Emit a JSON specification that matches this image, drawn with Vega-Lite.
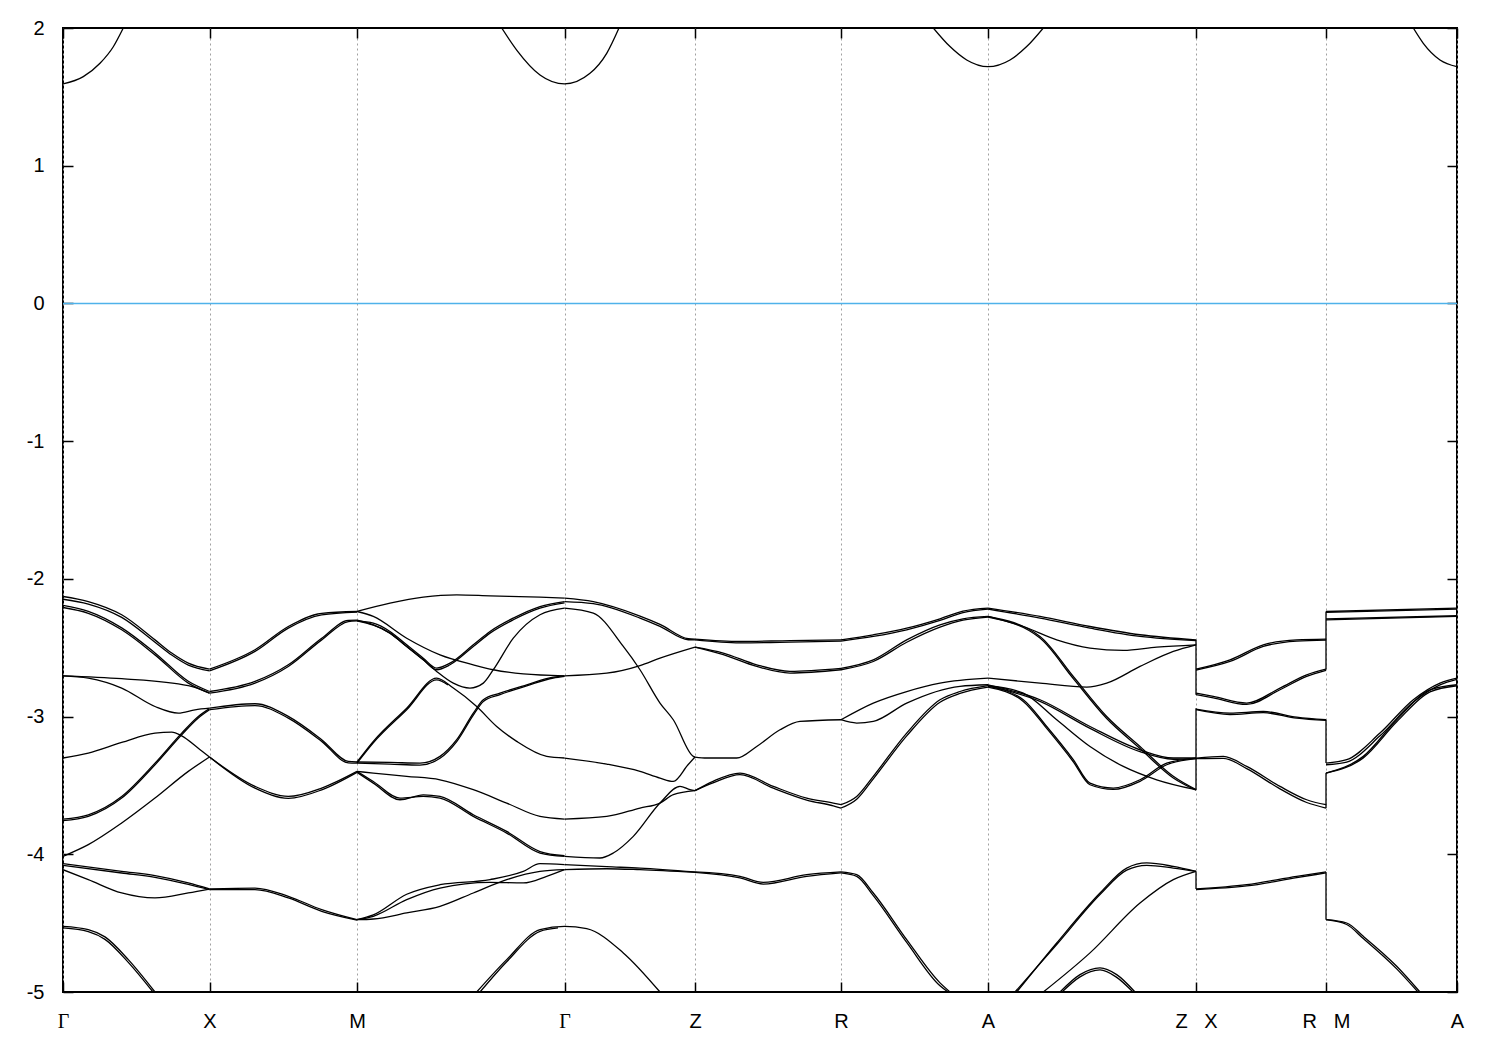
{
"$schema": "https://vega.github.io/schema/vega-lite/v6.json",
"width": 1394,
"height": 964,
"padding": {"left": 23, "top": 18, "right": 43, "bottom": 0},
"autosize": {"type": "pad"},
"config": {"view": {"stroke": "black", "strokeWidth": 2}, "background": "white"},
"datasets": {
"bands": [
{"b":"cb1","k":0,"e":1.594},{"b":"cb1","k":0.203,"e":1.647},{"b":"cb1","k":0.37,"e":1.744},{"b":"cb1","k":0.503,"e":1.864},{"b":"cb1","k":0.603,"e":2.0},
{"b":"cb2","k":4.387,"e":2.0},{"b":"cb2","k":4.537,"e":1.84},{"b":"cb2","k":4.77,"e":1.659},{"b":"cb2","k":5.015,"e":1.594},{"b":"cb2","k":5.27,"e":1.671},{"b":"cb2","k":5.437,"e":1.816},{"b":"cb2","k":5.56,"e":2.0},
{"b":"cb3","k":8.703,"e":2.0},{"b":"cb3","k":8.87,"e":1.865},{"b":"cb3","k":9.037,"e":1.768},{"b":"cb3","k":9.25,"e":1.719},{"b":"cb3","k":9.47,"e":1.768},{"b":"cb3","k":9.637,"e":1.865},{"b":"cb3","k":9.803,"e":2.0},
{"b":"cb4","k":13.503,"e":2.0},{"b":"cb4","k":13.603,"e":1.889},{"b":"cb4","k":13.77,"e":1.768},{"b":"cb4","k":13.94,"e":1.719},
{"b":"c1","k":0,"e":-2.128},{"b":"c1","k":0.253,"e":-2.165},{"b":"c1","k":0.587,"e":-2.261},{"b":"c1","k":0.92,"e":-2.443},{"b":"c1","k":1.087,"e":-2.539},{"b":"c1","k":1.253,"e":-2.612},{"b":"c1","k":1.465,"e":-2.656},
{"b":"c1b","k":0,"e":-2.148},{"b":"c1b","k":0.253,"e":-2.183},{"b":"c1b","k":0.587,"e":-2.28},{"b":"c1b","k":0.92,"e":-2.46},{"b":"c1b","k":1.087,"e":-2.553},{"b":"c1b","k":1.253,"e":-2.626},{"b":"c1b","k":1.465,"e":-2.668},
{"b":"c2","k":0,"e":-2.208},{"b":"c2","k":0.253,"e":-2.25},{"b":"c2","k":0.587,"e":-2.37},{"b":"c2","k":0.92,"e":-2.552},{"b":"c2","k":1.253,"e":-2.757},{"b":"c2","k":1.465,"e":-2.83},
{"b":"c2b","k":0,"e":-2.192},{"b":"c2b","k":0.253,"e":-2.236},{"b":"c2b","k":0.587,"e":-2.356},{"b":"c2b","k":0.92,"e":-2.538},{"b":"c2b","k":1.253,"e":-2.744},{"b":"c2b","k":1.465,"e":-2.818},
{"b":"c3","k":0,"e":-2.704},{"b":"c3","k":0.587,"e":-2.725},{"b":"c3","k":1.253,"e":-2.776},{"b":"c3","k":1.465,"e":-2.83},
{"b":"c4","k":0,"e":-2.704},{"b":"c4","k":0.253,"e":-2.721},{"b":"c4","k":0.587,"e":-2.793},{"b":"c4","k":0.92,"e":-2.927},{"b":"c4","k":1.153,"e":-2.975},{"b":"c4","k":1.32,"e":-2.951},{"b":"c4","k":1.465,"e":-2.939},
{"b":"c5","k":0,"e":-3.301},{"b":"c5","k":0.253,"e":-3.265},{"b":"c5","k":0.587,"e":-3.188},{"b":"c5","k":0.92,"e":-3.12},{"b":"c5","k":1.087,"e":-3.113},{"b":"c5","k":1.187,"e":-3.14},{"b":"c5","k":1.353,"e":-3.23},{"b":"c5","k":1.465,"e":-3.294},
{"b":"c6","k":0,"e":-3.744},{"b":"c6","k":0.253,"e":-3.713},{"b":"c6","k":0.587,"e":-3.58},{"b":"c6","k":0.92,"e":-3.338},{"b":"c6","k":1.187,"e":-3.12},{"b":"c6","k":1.353,"e":-2.999},{"b":"c6","k":1.465,"e":-2.942},
{"b":"c6b","k":0,"e":-3.756},{"b":"c6b","k":0.253,"e":-3.725},{"b":"c6b","k":0.587,"e":-3.592},{"b":"c6b","k":0.92,"e":-3.35},{"b":"c6b","k":1.187,"e":-3.132},{"b":"c6b","k":1.353,"e":-3.01},{"b":"c6b","k":1.465,"e":-2.95},
{"b":"c7","k":0,"e":-4.015},{"b":"c7","k":0.253,"e":-3.93},{"b":"c7","k":0.587,"e":-3.773},{"b":"c7","k":0.92,"e":-3.592},{"b":"c7","k":1.253,"e":-3.398},{"b":"c7","k":1.465,"e":-3.294},
{"b":"c8","k":0,"e":-4.068},{"b":"c8","k":0.587,"e":-4.124},{"b":"c8","k":0.92,"e":-4.155},{"b":"c8","k":1.253,"e":-4.208},{"b":"c8","k":1.465,"e":-4.252},
{"b":"c8b","k":0,"e":-4.08},{"b":"c8b","k":0.587,"e":-4.136},{"b":"c8b","k":0.92,"e":-4.167},{"b":"c8b","k":1.253,"e":-4.218},{"b":"c8b","k":1.465,"e":-4.256},
{"b":"c9","k":0,"e":-4.112},{"b":"c9","k":0.253,"e":-4.184},{"b":"c9","k":0.587,"e":-4.281},{"b":"c9","k":0.92,"e":-4.317},{"b":"c9","k":1.253,"e":-4.281},{"b":"c9","k":1.465,"e":-4.252},
{"b":"c10","k":0,"e":-4.523},{"b":"c10","k":0.253,"e":-4.547},{"b":"c10","k":0.42,"e":-4.6},{"b":"c10","k":0.653,"e":-4.765},{"b":"c10","k":0.92,"e":-5.0},
{"b":"c10b","k":0,"e":-4.535},{"b":"c10b","k":0.253,"e":-4.562},{"b":"c10b","k":0.42,"e":-4.618},{"b":"c10b","k":0.653,"e":-4.785},{"b":"c10b","k":0.9,"e":-5.0},
{"b":"d1","k":1.465,"e":-2.656},{"b":"d1","k":1.92,"e":-2.515},{"b":"d1","k":2.253,"e":-2.346},{"b":"d1","k":2.587,"e":-2.25},{"b":"d1","k":2.94,"e":-2.237},
{"b":"d1b","k":1.465,"e":-2.668},{"b":"d1b","k":1.92,"e":-2.527},{"b":"d1b","k":2.253,"e":-2.358},{"b":"d1b","k":2.587,"e":-2.262},{"b":"d1b","k":2.94,"e":-2.242},
{"b":"d2","k":1.465,"e":-2.83},{"b":"d2","k":1.92,"e":-2.757},{"b":"d2","k":2.253,"e":-2.636},{"b":"d2","k":2.587,"e":-2.443},{"b":"d2","k":2.853,"e":-2.31},{"b":"d2","k":2.94,"e":-2.305},
{"b":"d2b","k":1.465,"e":-2.818},{"b":"d2b","k":1.92,"e":-2.745},{"b":"d2b","k":2.253,"e":-2.624},{"b":"d2b","k":2.587,"e":-2.431},{"b":"d2b","k":2.853,"e":-2.302},{"b":"d2b","k":2.94,"e":-2.3},
{"b":"d3","k":1.465,"e":-2.939},{"b":"d3","k":1.92,"e":-2.907},{"b":"d3","k":2.253,"e":-2.999},{"b":"d3","k":2.587,"e":-3.168},{"b":"d3","k":2.853,"e":-3.326},{"b":"d3","k":2.94,"e":-3.33},
{"b":"d3b","k":1.465,"e":-2.95},{"b":"d3b","k":1.92,"e":-2.92},{"b":"d3b","k":2.253,"e":-3.011},{"b":"d3b","k":2.587,"e":-3.18},{"b":"d3b","k":2.853,"e":-3.336},{"b":"d3b","k":2.94,"e":-3.338},
{"b":"d4","k":1.465,"e":-3.294},{"b":"d4","k":1.92,"e":-3.507},{"b":"d4","k":2.253,"e":-3.58},{"b":"d4","k":2.587,"e":-3.519},{"b":"d4","k":2.94,"e":-3.398},
{"b":"d4b","k":1.465,"e":-3.294},{"b":"d4b","k":1.92,"e":-3.52},{"b":"d4b","k":2.253,"e":-3.594},{"b":"d4b","k":2.587,"e":-3.532},{"b":"d4b","k":2.94,"e":-3.405},
{"b":"d5","k":1.465,"e":-4.252},{"b":"d5","k":1.92,"e":-4.245},{"b":"d5","k":2.253,"e":-4.305},{"b":"d5","k":2.587,"e":-4.402},{"b":"d5","k":2.94,"e":-4.475},
{"b":"d5b","k":1.465,"e":-4.256},{"b":"d5b","k":1.92,"e":-4.257},{"b":"d5b","k":2.253,"e":-4.317},{"b":"d5b","k":2.587,"e":-4.414},{"b":"d5b","k":2.94,"e":-4.478},
{"b":"e1","k":2.94,"e":-2.237},{"b":"e1","k":3.27,"e":-2.177},{"b":"e1","k":3.603,"e":-2.133},{"b":"e1","k":3.937,"e":-2.116},{"b":"e1","k":4.27,"e":-2.123},{"b":"e1","k":4.77,"e":-2.133},{"b":"e1","k":5.015,"e":-2.14},
{"b":"e2","k":2.94,"e":-2.305},{"b":"e2","k":3.103,"e":-2.322},{"b":"e2","k":3.27,"e":-2.382},{"b":"e2","k":3.437,"e":-2.479},{"b":"e2","k":3.603,"e":-2.576},{"b":"e2","k":3.737,"e":-2.648},{"b":"e2","k":3.87,"e":-2.612},{"b":"e2","k":4.103,"e":-2.479},{"b":"e2","k":4.27,"e":-2.382},{"b":"e2","k":4.503,"e":-2.285},{"b":"e2","k":4.77,"e":-2.201},{"b":"e2","k":5.015,"e":-2.165},
{"b":"e2b","k":2.94,"e":-2.3},{"b":"e2b","k":3.103,"e":-2.334},{"b":"e2b","k":3.27,"e":-2.394},{"b":"e2b","k":3.437,"e":-2.491},{"b":"e2b","k":3.603,"e":-2.588},{"b":"e2b","k":3.737,"e":-2.66},{"b":"e2b","k":3.87,"e":-2.624},{"b":"e2b","k":4.103,"e":-2.491},{"b":"e2b","k":4.27,"e":-2.394},{"b":"e2b","k":4.503,"e":-2.297},{"b":"e2b","k":4.77,"e":-2.213},{"b":"e2b","k":5.015,"e":-2.175},
{"b":"e3","k":2.94,"e":-2.305},{"b":"e3","k":3.27,"e":-2.394},{"b":"e3","k":3.437,"e":-2.491},{"b":"e3","k":3.603,"e":-2.588},{"b":"e3","k":3.737,"e":-2.672},{"b":"e3","k":3.903,"e":-2.757},{"b":"e3","k":4.07,"e":-2.793},{"b":"e3","k":4.203,"e":-2.757},{"b":"e3","k":4.303,"e":-2.66},{"b":"e3","k":4.503,"e":-2.431},{"b":"e3","k":4.77,"e":-2.261},{"b":"e3","k":5.015,"e":-2.213},
{"b":"e4","k":2.94,"e":-2.237},{"b":"e4","k":3.103,"e":-2.273},{"b":"e4","k":3.437,"e":-2.431},{"b":"e4","k":3.77,"e":-2.552},{"b":"e4","k":4.103,"e":-2.624},{"b":"e4","k":4.303,"e":-2.66},{"b":"e4","k":4.603,"e":-2.69},{"b":"e4","k":5.015,"e":-2.704},
{"b":"e5","k":2.94,"e":-3.33},{"b":"e5","k":3.103,"e":-3.18},{"b":"e5","k":3.437,"e":-2.939},{"b":"e5","k":3.737,"e":-2.721},{"b":"e5","k":3.903,"e":-2.793},{"b":"e5","k":4.137,"e":-2.927},{"b":"e5","k":4.337,"e":-3.072},{"b":"e5","k":4.537,"e":-3.18},{"b":"e5","k":4.837,"e":-3.289},{"b":"e5","k":5.015,"e":-3.301},
{"b":"e5b","k":2.94,"e":-3.338},{"b":"e5b","k":3.103,"e":-3.19},{"b":"e5b","k":3.437,"e":-2.95},{"b":"e5b","k":3.737,"e":-2.733},{"b":"e5b","k":3.85,"e":-2.77},
{"b":"e6","k":2.94,"e":-3.33},{"b":"e6","k":3.27,"e":-3.333},{"b":"e6","k":3.57,"e":-3.338},{"b":"e6","k":3.77,"e":-3.289},{"b":"e6","k":3.937,"e":-3.168},{"b":"e6","k":4.103,"e":-2.975},{"b":"e6","k":4.203,"e":-2.878},{"b":"e6","k":4.37,"e":-2.83},{"b":"e6","k":4.637,"e":-2.769},{"b":"e6","k":4.903,"e":-2.714},{"b":"e6","k":5.015,"e":-2.704},
{"b":"e6b","k":2.94,"e":-3.338},{"b":"e6b","k":3.27,"e":-3.345},{"b":"e6b","k":3.57,"e":-3.352},{"b":"e6b","k":3.77,"e":-3.303},{"b":"e6b","k":3.937,"e":-3.182},{"b":"e6b","k":4.103,"e":-2.99},{"b":"e6b","k":4.203,"e":-2.89},{"b":"e6b","k":4.37,"e":-2.84},{"b":"e6b","k":4.637,"e":-2.777},{"b":"e6b","k":4.903,"e":-2.72},{"b":"e6b","k":5.015,"e":-2.708},
{"b":"e7","k":2.94,"e":-3.398},{"b":"e7","k":3.103,"e":-3.41},{"b":"e7","k":3.437,"e":-3.434},{"b":"e7","k":3.77,"e":-3.459},{"b":"e7","k":4.103,"e":-3.531},{"b":"e7","k":4.437,"e":-3.628},{"b":"e7","k":4.77,"e":-3.725},{"b":"e7","k":5.015,"e":-3.744},
{"b":"e8","k":2.94,"e":-3.398},{"b":"e8","k":3.103,"e":-3.471},{"b":"e8","k":3.37,"e":-3.592},{"b":"e8","k":3.603,"e":-3.58},{"b":"e8","k":3.77,"e":-3.592},{"b":"e8","k":4.103,"e":-3.725},{"b":"e8","k":4.437,"e":-3.846},{"b":"e8","k":4.77,"e":-3.991},{"b":"e8","k":5.015,"e":-4.015},
{"b":"e8b","k":2.94,"e":-3.405},{"b":"e8b","k":3.103,"e":-3.483},{"b":"e8b","k":3.37,"e":-3.604},{"b":"e8b","k":3.603,"e":-3.568},{"b":"e8b","k":3.77,"e":-3.58},{"b":"e8b","k":4.103,"e":-3.713},{"b":"e8b","k":4.437,"e":-3.834},{"b":"e8b","k":4.77,"e":-3.98},{"b":"e8b","k":5.015,"e":-4.01},
{"b":"e9","k":2.94,"e":-4.475},{"b":"e9","k":3.103,"e":-4.44},{"b":"e9","k":3.437,"e":-4.29},{"b":"e9","k":3.77,"e":-4.221},{"b":"e9","k":4.27,"e":-4.184},{"b":"e9","k":4.603,"e":-4.124},{"b":"e9","k":4.77,"e":-4.068},{"b":"e9","k":5.015,"e":-4.075},
{"b":"e10","k":2.94,"e":-4.475},{"b":"e10","k":3.103,"e":-4.45},{"b":"e10","k":3.437,"e":-4.329},{"b":"e10","k":3.77,"e":-4.245},{"b":"e10","k":4.27,"e":-4.204},{"b":"e10","k":4.603,"e":-4.208},{"b":"e10","k":4.837,"e":-4.16},{"b":"e10","k":5.015,"e":-4.112},
{"b":"e11","k":2.94,"e":-4.475},{"b":"e11","k":3.103,"e":-4.47},{"b":"e11","k":3.437,"e":-4.426},{"b":"e11","k":3.77,"e":-4.378},{"b":"e11","k":4.103,"e":-4.281},{"b":"e11","k":4.437,"e":-4.184},{"b":"e11","k":4.77,"e":-4.124},{"b":"e11","k":5.015,"e":-4.112},
{"b":"e12","k":4.137,"e":-5.0},{"b":"e12","k":4.437,"e":-4.765},{"b":"e12","k":4.77,"e":-4.547},{"b":"e12","k":5.015,"e":-4.523},{"b":"e12","k":5.237,"e":-4.54},{"b":"e12","k":5.603,"e":-4.716},{"b":"e12","k":5.97,"e":-5.0},
{"b":"e12b","k":4.17,"e":-5.0},{"b":"e12b","k":4.437,"e":-4.78},{"b":"e12b","k":4.77,"e":-4.56},{"b":"e12b","k":4.95,"e":-4.535},
{"b":"f1","k":5.015,"e":-2.14},{"b":"f1","k":5.303,"e":-2.165},{"b":"f1","k":5.77,"e":-2.27},{"b":"f1","k":5.97,"e":-2.33},{"b":"f1","k":6.253,"e":-2.435},{"b":"f1","k":6.32,"e":-2.438},
{"b":"f1b","k":5.015,"e":-2.165},{"b":"f1b","k":5.303,"e":-2.18},{"b":"f1b","k":5.77,"e":-2.285},{"b":"f1b","k":5.97,"e":-2.345},{"b":"f1b","k":6.253,"e":-2.442},{"b":"f1b","k":6.32,"e":-2.443},
{"b":"f2","k":5.015,"e":-2.213},{"b":"f2","k":5.303,"e":-2.249},{"b":"f2","k":5.603,"e":-2.491},{"b":"f2","k":5.77,"e":-2.66},{"b":"f2","k":5.97,"e":-2.902},{"b":"f2","k":6.103,"e":-3.023},{"b":"f2","k":6.303,"e":-3.289},{"b":"f2","k":6.32,"e":-3.294},
{"b":"f3","k":5.015,"e":-2.704},{"b":"f3","k":5.437,"e":-2.685},{"b":"f3","k":5.77,"e":-2.63},{"b":"f3","k":5.97,"e":-2.576},{"b":"f3","k":6.32,"e":-2.496},
{"b":"f4","k":5.015,"e":-3.301},{"b":"f4","k":5.437,"e":-3.345},{"b":"f4","k":5.77,"e":-3.398},{"b":"f4","k":5.97,"e":-3.447},{"b":"f4","k":6.103,"e":-3.471},{"b":"f4","k":6.25,"e":-3.35},{"b":"f4","k":6.32,"e":-3.294},
{"b":"f5","k":5.015,"e":-3.744},{"b":"f5","k":5.437,"e":-3.725},{"b":"f5","k":5.77,"e":-3.664},{"b":"f5","k":5.97,"e":-3.628},{"b":"f5","k":6.103,"e":-3.567},{"b":"f5","k":6.32,"e":-3.538},
{"b":"f6","k":5.015,"e":-4.015},{"b":"f6","k":5.37,"e":-4.027},{"b":"f6","k":5.503,"e":-3.991},{"b":"f6","k":5.703,"e":-3.87},{"b":"f6","k":5.97,"e":-3.628},{"b":"f6","k":6.17,"e":-3.507},{"b":"f6","k":6.27,"e":-3.53},{"b":"f6","k":6.32,"e":-3.538},
{"b":"f7","k":5.015,"e":-4.075},{"b":"f7","k":5.437,"e":-4.09},{"b":"f7","k":5.77,"e":-4.1},{"b":"f7","k":6.32,"e":-4.128},
{"b":"f8","k":5.015,"e":-4.112},{"b":"f8","k":5.437,"e":-4.105},{"b":"f8","k":5.77,"e":-4.112},{"b":"f8","k":6.32,"e":-4.132},
{"b":"g1","k":6.32,"e":-2.438},{"b":"g1","k":6.77,"e":-2.455},{"b":"g1","k":7.27,"e":-2.448},{"b":"g1","k":7.78,"e":-2.443},
{"b":"g1b","k":6.32,"e":-2.443},{"b":"g1b","k":6.77,"e":-2.465},{"b":"g1b","k":7.27,"e":-2.46},{"b":"g1b","k":7.78,"e":-2.452},
{"b":"g2","k":6.32,"e":-2.496},{"b":"g2","k":6.603,"e":-2.539},{"b":"g2","k":6.937,"e":-2.624},{"b":"g2","k":7.27,"e":-2.672},{"b":"g2","k":7.78,"e":-2.65},
{"b":"g2b","k":6.32,"e":-2.496},{"b":"g2b","k":6.603,"e":-2.551},{"b":"g2b","k":6.937,"e":-2.636},{"b":"g2b","k":7.27,"e":-2.684},{"b":"g2b","k":7.78,"e":-2.66},
{"b":"g3","k":6.32,"e":-3.294},{"b":"g3","k":6.437,"e":-3.301},{"b":"g3","k":6.737,"e":-3.301},{"b":"g3","k":6.937,"e":-3.217},{"b":"g3","k":7.17,"e":-3.096},{"b":"g3","k":7.37,"e":-3.035},{"b":"g3","k":7.78,"e":-3.023},
{"b":"g4","k":6.32,"e":-3.538},{"b":"g4","k":6.5,"e":-3.47},{"b":"g4","k":6.77,"e":-3.41},{"b":"g4","k":7.103,"e":-3.507},{"b":"g4","k":7.437,"e":-3.592},{"b":"g4","k":7.703,"e":-3.628},{"b":"g4","k":7.78,"e":-3.64},
{"b":"g4b","k":6.32,"e":-3.538},{"b":"g4b","k":6.5,"e":-3.482},{"b":"g4b","k":6.77,"e":-3.422},{"b":"g4b","k":7.103,"e":-3.52},{"b":"g4b","k":7.437,"e":-3.606},{"b":"g4b","k":7.703,"e":-3.648},{"b":"g4b","k":7.78,"e":-3.664},
{"b":"g5","k":6.32,"e":-4.128},{"b":"g5","k":6.77,"e":-4.16},{"b":"g5","k":7.003,"e":-4.204},{"b":"g5","k":7.437,"e":-4.148},{"b":"g5","k":7.78,"e":-4.128},
{"b":"g5b","k":6.32,"e":-4.132},{"b":"g5b","k":6.77,"e":-4.172},{"b":"g5b","k":7.003,"e":-4.216},{"b":"g5b","k":7.437,"e":-4.16},{"b":"g5b","k":7.78,"e":-4.135},
{"b":"h1","k":7.78,"e":-2.443},{"b":"h1","k":8.103,"e":-2.406},{"b":"h1","k":8.437,"e":-2.358},{"b":"h1","k":8.77,"e":-2.29},{"b":"h1","k":9.0,"e":-2.235},{"b":"h1","k":9.25,"e":-2.213},
{"b":"h1b","k":7.78,"e":-2.452},{"b":"h1b","k":8.103,"e":-2.418},{"b":"h1b","k":8.437,"e":-2.37},{"b":"h1b","k":8.77,"e":-2.302},{"b":"h1b","k":9.0,"e":-2.245},{"b":"h1b","k":9.25,"e":-2.22},
{"b":"h2","k":7.78,"e":-2.65},{"b":"h2","k":8.103,"e":-2.588},{"b":"h2","k":8.437,"e":-2.443},{"b":"h2","k":8.77,"e":-2.334},{"b":"h2","k":9.0,"e":-2.29},{"b":"h2","k":9.25,"e":-2.273},
{"b":"h2b","k":7.78,"e":-2.66},{"b":"h2b","k":8.103,"e":-2.6},{"b":"h2b","k":8.437,"e":-2.46},{"b":"h2b","k":8.77,"e":-2.35},{"b":"h2b","k":9.0,"e":-2.3},{"b":"h2b","k":9.25,"e":-2.278},
{"b":"h3","k":7.78,"e":-3.023},{"b":"h3","k":8.103,"e":-2.902},{"b":"h3","k":8.437,"e":-2.818},{"b":"h3","k":8.77,"e":-2.757},{"b":"h3","k":9.25,"e":-2.721},
{"b":"h3b","k":7.78,"e":-3.023},{"b":"h3b","k":7.937,"e":-3.047},{"b":"h3b","k":8.103,"e":-3.035},{"b":"h3b","k":8.437,"e":-2.902},{"b":"h3b","k":8.97,"e":-2.78},{"b":"h3b","k":9.25,"e":-2.769},
{"b":"h4","k":7.78,"e":-3.64},{"b":"h4","k":7.937,"e":-3.58},{"b":"h4","k":8.103,"e":-3.434},{"b":"h4","k":8.437,"e":-3.12},{"b":"h4","k":8.77,"e":-2.878},{"b":"h4","k":8.97,"e":-2.818},{"b":"h4","k":9.25,"e":-2.776},
{"b":"h4b","k":7.78,"e":-3.664},{"b":"h4b","k":7.937,"e":-3.6},{"b":"h4b","k":8.103,"e":-3.452},{"b":"h4b","k":8.437,"e":-3.14},{"b":"h4b","k":8.77,"e":-2.896},{"b":"h4b","k":8.97,"e":-2.832},{"b":"h4b","k":9.25,"e":-2.786},
{"b":"h5","k":7.78,"e":-4.128},{"b":"h5","k":7.937,"e":-4.148},{"b":"h5","k":8.103,"e":-4.281},{"b":"h5","k":8.437,"e":-4.62},{"b":"h5","k":8.77,"e":-4.934},{"b":"h5","k":8.87,"e":-5.0},
{"b":"h5b","k":7.78,"e":-4.135},{"b":"h5b","k":7.937,"e":-4.16},{"b":"h5b","k":8.103,"e":-4.3},{"b":"h5b","k":8.437,"e":-4.64},{"b":"h5b","k":8.77,"e":-4.955},{"b":"h5b","k":8.85,"e":-5.0},
{"b":"i1","k":9.25,"e":-2.213},{"b":"i1","k":9.77,"e":-2.273},{"b":"i1","k":10.27,"e":-2.346},{"b":"i1","k":10.77,"e":-2.406},{"b":"i1","k":11.33,"e":-2.443},
{"b":"i1b","k":9.25,"e":-2.22},{"b":"i1b","k":9.77,"e":-2.285},{"b":"i1b","k":10.27,"e":-2.358},{"b":"i1b","k":10.77,"e":-2.418},{"b":"i1b","k":11.33,"e":-2.448},
{"b":"i2","k":9.25,"e":-2.273},{"b":"i2","k":9.603,"e":-2.346},{"b":"i2","k":9.937,"e":-2.443},{"b":"i2","k":10.27,"e":-2.503},{"b":"i2","k":10.603,"e":-2.52},{"b":"i2","k":10.937,"e":-2.496},{"b":"i2","k":11.33,"e":-2.479},
{"b":"i3","k":9.25,"e":-2.273},{"b":"i3","k":9.77,"e":-2.418},{"b":"i3","k":10.103,"e":-2.709},{"b":"i3","k":10.437,"e":-2.999},{"b":"i3","k":10.77,"e":-3.217},{"b":"i3","k":11.103,"e":-3.434},{"b":"i3","k":11.33,"e":-3.531},
{"b":"i3b","k":9.25,"e":-2.278},{"b":"i3b","k":9.77,"e":-2.43},{"b":"i3b","k":10.103,"e":-2.724},{"b":"i3b","k":10.437,"e":-3.014},{"b":"i3b","k":10.77,"e":-3.232},{"b":"i3b","k":11.103,"e":-3.446},{"b":"i3b","k":11.33,"e":-3.535},
{"b":"i4","k":9.25,"e":-2.721},{"b":"i4","k":9.77,"e":-2.757},{"b":"i4","k":10.237,"e":-2.786},{"b":"i4","k":10.437,"e":-2.757},{"b":"i4","k":10.77,"e":-2.636},{"b":"i4","k":11.103,"e":-2.527},{"b":"i4","k":11.33,"e":-2.479},
{"b":"i5","k":9.25,"e":-2.769},{"b":"i5","k":9.77,"e":-2.878},{"b":"i5","k":10.27,"e":-3.072},{"b":"i5","k":10.77,"e":-3.241},{"b":"i5","k":11.103,"e":-3.301},{"b":"i5","k":11.33,"e":-3.301},
{"b":"i5b","k":9.25,"e":-2.776},{"b":"i5b","k":9.77,"e":-2.89},{"b":"i5b","k":10.27,"e":-3.086},{"b":"i5b","k":10.77,"e":-3.255},{"b":"i5b","k":11.103,"e":-3.31},{"b":"i5b","k":11.33,"e":-3.305},
{"b":"i6","k":9.25,"e":-2.776},{"b":"i6","k":9.603,"e":-2.83},{"b":"i6","k":9.937,"e":-3.023},{"b":"i6","k":10.27,"e":-3.217},{"b":"i6","k":10.603,"e":-3.362},{"b":"i6","k":10.937,"e":-3.459},{"b":"i6","k":11.33,"e":-3.531},
{"b":"i7","k":9.25,"e":-2.78},{"b":"i7","k":9.603,"e":-2.878},{"b":"i7","k":9.837,"e":-3.072},{"b":"i7","k":10.103,"e":-3.313},{"b":"i7","k":10.27,"e":-3.483},{"b":"i7","k":10.503,"e":-3.519},{"b":"i7","k":10.77,"e":-3.459},{"b":"i7","k":11.037,"e":-3.338},{"b":"i7","k":11.33,"e":-3.301},
{"b":"i7b","k":9.25,"e":-2.786},{"b":"i7b","k":9.603,"e":-2.89},{"b":"i7b","k":9.837,"e":-3.086},{"b":"i7b","k":10.103,"e":-3.328},{"b":"i7b","k":10.27,"e":-3.495},{"b":"i7b","k":10.503,"e":-3.529},{"b":"i7b","k":10.77,"e":-3.47},{"b":"i7b","k":11.037,"e":-3.35},{"b":"i7b","k":11.33,"e":-3.305},
{"b":"i8","k":9.537,"e":-5.0},{"b":"i8","k":9.937,"e":-4.644},{"b":"i8","k":10.37,"e":-4.281},{"b":"i8","k":10.637,"e":-4.1},{"b":"i8","k":10.837,"e":-4.063},{"b":"i8","k":11.103,"e":-4.088},{"b":"i8","k":11.33,"e":-4.124},
{"b":"i8b","k":9.52,"e":-5.0},{"b":"i8b","k":9.937,"e":-4.655},{"b":"i8b","k":10.37,"e":-4.292},{"b":"i8b","k":10.637,"e":-4.115},{"b":"i8b","k":10.837,"e":-4.08},{"b":"i8b","k":11.103,"e":-4.1},{"b":"i8b","k":11.33,"e":-4.124},
{"b":"i9","k":9.803,"e":-5.0},{"b":"i9","k":10.27,"e":-4.716},{"b":"i9","k":10.77,"e":-4.354},{"b":"i9","k":11.103,"e":-4.184},{"b":"i9","k":11.33,"e":-4.124},
{"b":"i10","k":9.97,"e":-5.0},{"b":"i10","k":10.17,"e":-4.874},{"b":"i10","k":10.37,"e":-4.825},{"b":"i10","k":10.537,"e":-4.874},{"b":"i10","k":10.72,"e":-5.0},
{"b":"i10b","k":9.99,"e":-5.0},{"b":"i10b","k":10.17,"e":-4.89},{"b":"i10b","k":10.37,"e":-4.84},{"b":"i10b","k":10.53,"e":-4.89},{"b":"i10b","k":10.7,"e":-5.0},
{"b":"j1","k":11.33,"e":-2.656},{"b":"j1","k":11.67,"e":-2.588},{"b":"j1","k":12.003,"e":-2.479},{"b":"j1","k":12.337,"e":-2.443},{"b":"j1","k":12.63,"e":-2.438},
{"b":"j1b","k":11.33,"e":-2.662},{"b":"j1b","k":11.67,"e":-2.6},{"b":"j1b","k":12.003,"e":-2.491},{"b":"j1b","k":12.337,"e":-2.452},{"b":"j1b","k":12.63,"e":-2.445},
{"b":"j2","k":11.33,"e":-2.83},{"b":"j2","k":11.503,"e":-2.854},{"b":"j2","k":11.837,"e":-2.902},{"b":"j2","k":12.17,"e":-2.793},{"b":"j2","k":12.437,"e":-2.697},{"b":"j2","k":12.63,"e":-2.656},
{"b":"j2b","k":11.33,"e":-2.84},{"b":"j2b","k":11.503,"e":-2.864},{"b":"j2b","k":11.837,"e":-2.912},{"b":"j2b","k":12.17,"e":-2.805},{"b":"j2b","k":12.437,"e":-2.708},{"b":"j2b","k":12.63,"e":-2.664},
{"b":"j3","k":11.33,"e":-2.946},{"b":"j3","k":11.67,"e":-2.975},{"b":"j3","k":12.003,"e":-2.963},{"b":"j3","k":12.337,"e":-3.004},{"b":"j3","k":12.63,"e":-3.023},
{"b":"j3b","k":11.33,"e":-2.95},{"b":"j3b","k":11.67,"e":-2.985},{"b":"j3b","k":12.003,"e":-2.972},{"b":"j3b","k":12.337,"e":-3.012},{"b":"j3b","k":12.63,"e":-3.028},
{"b":"j4","k":11.33,"e":-3.301},{"b":"j4","k":11.603,"e":-3.289},{"b":"j4","k":11.837,"e":-3.362},{"b":"j4","k":12.17,"e":-3.507},{"b":"j4","k":12.437,"e":-3.604},{"b":"j4","k":12.63,"e":-3.64},
{"b":"j4b","k":11.33,"e":-3.305},{"b":"j4b","k":11.603,"e":-3.303},{"b":"j4b","k":11.837,"e":-3.378},{"b":"j4b","k":12.17,"e":-3.525},{"b":"j4b","k":12.437,"e":-3.624},{"b":"j4b","k":12.63,"e":-3.664},
{"b":"j5","k":11.33,"e":-4.252},{"b":"j5","k":11.837,"e":-4.221},{"b":"j5","k":12.337,"e":-4.16},{"b":"j5","k":12.63,"e":-4.128},
{"b":"j5b","k":11.33,"e":-4.256},{"b":"j5b","k":11.837,"e":-4.23},{"b":"j5b","k":12.337,"e":-4.17},{"b":"j5b","k":12.63,"e":-4.135},
{"b":"l1","k":12.63,"e":-2.237},{"b":"l1","k":13.94,"e":-2.213},
{"b":"l1b","k":12.63,"e":-2.243},{"b":"l1b","k":13.94,"e":-2.22},
{"b":"l2","k":12.63,"e":-2.298},{"b":"l2","k":13.94,"e":-2.273},
{"b":"l2b","k":12.63,"e":-2.29},{"b":"l2b","k":13.94,"e":-2.268},
{"b":"l3","k":12.63,"e":-3.338},{"b":"l3","k":12.837,"e":-3.313},{"b":"l3","k":13.17,"e":-3.12},{"b":"l3","k":13.503,"e":-2.878},{"b":"l3","k":13.77,"e":-2.757},{"b":"l3","k":13.94,"e":-2.721},
{"b":"l3b","k":12.63,"e":-3.35},{"b":"l3b","k":12.837,"e":-3.33},{"b":"l3b","k":13.17,"e":-3.14},{"b":"l3b","k":13.503,"e":-2.895},{"b":"l3b","k":13.77,"e":-2.77},{"b":"l3b","k":13.94,"e":-2.73},
{"b":"l4","k":12.63,"e":-3.41},{"b":"l4","k":13.003,"e":-3.289},{"b":"l4","k":13.337,"e":-3.023},{"b":"l4","k":13.67,"e":-2.806},{"b":"l4","k":13.94,"e":-2.769},
{"b":"l4b","k":12.63,"e":-3.41},{"b":"l4b","k":13.003,"e":-3.3},{"b":"l4b","k":13.337,"e":-3.038},{"b":"l4b","k":13.67,"e":-2.82},{"b":"l4b","k":13.94,"e":-2.776},
{"b":"l5","k":12.63,"e":-4.475},{"b":"l5","k":12.837,"e":-4.499},{"b":"l5","k":13.003,"e":-4.596},{"b":"l5","k":13.337,"e":-4.813},{"b":"l5","k":13.57,"e":-5.0},
{"b":"l5b","k":12.63,"e":-4.475},{"b":"l5b","k":12.837,"e":-4.51},{"b":"l5b","k":13.003,"e":-4.612},{"b":"l5b","k":13.337,"e":-4.832},{"b":"l5b","k":13.55,"e":-5.0},
{"b":"v1","k":11.33,"e":-2.443},{"b":"v1","k":11.33,"e":-2.842},
{"b":"v2","k":11.33,"e":-2.939},{"b":"v2","k":11.33,"e":-3.531},
{"b":"v3","k":11.33,"e":-4.124},{"b":"v3","k":11.33,"e":-4.252},
{"b":"v4","k":12.63,"e":-2.237},{"b":"v4","k":12.63,"e":-2.656},
{"b":"v5","k":12.63,"e":-3.023},{"b":"v5","k":12.63,"e":-3.338},
{"b":"v6","k":12.63,"e":-3.41},{"b":"v6","k":12.63,"e":-3.664},
{"b":"v7","k":12.63,"e":-4.128},{"b":"v7","k":12.63,"e":-4.475}
]
},
"layer": [
{
"data": {"name": "bands"},
"mark": {"type": "line", "color": "black", "strokeWidth": 1.3, "interpolate": "monotone", "clip": true},
"encoding": {
"x": {"field": "k", "type": "quantitative", "scale": {"domain": [0, 13.94], "nice": false, "zero": false},
"axis": {"orient": "bottom", "title": null, "values": [0, 1.465, 2.94, 5.015, 6.32, 7.78, 9.25, 11.33, 12.63, 13.94],
"labelExpr": "datum.value < 0.01 ? 'Γ' : abs(datum.value-1.465)<0.01 ? 'X' : abs(datum.value-2.94)<0.01 ? 'M' : abs(datum.value-5.015)<0.01 ? 'Γ' : abs(datum.value-6.32)<0.01 ? 'Z' : abs(datum.value-7.78)<0.01 ? 'R' : abs(datum.value-9.25)<0.01 ? 'A' : abs(datum.value-11.33)<0.01 ? 'Z\u00a0\u00a0\u00a0X' : abs(datum.value-12.63)<0.01 ? 'R\u00a0\u00a0\u00a0M' : 'A'",
"labelFont": {"condition": {"test": "datum.value < 0.01 || abs(datum.value-5.015)<0.01", "value": "Liberation Serif"}, "value": "Liberation Sans"},
"labelFontSize": 20, "labelColor": "black", "labelPadding": 29, "labelFlush": false, "labelOverlap": false, "labelBound": false,
"tickSize": -10, "tickColor": "black", "tickWidth": 1.5, "domain": false,
"grid": true, "gridColor": "#a0a0a0", "gridDash": [2, 3], "gridWidth": 1}},
"y": {"field": "e", "type": "quantitative", "scale": {"domain": [-5, 2], "nice": false, "zero": false},
"axis": {"orient": "left", "title": null, "values": [-5, -4, -3, -2, -1, 0, 1, 2], "labelExpr": "datum.value < 0 ? '-' + abs(datum.value) : '' + datum.value", "labelFont": "Liberation Sans", "labelFontSize": 20, "labelColor": "black",
"labelPadding": 29, "labelFlush": false, "labelOverlap": false, "labelBound": false, "tickSize": -10, "tickColor": "black", "tickWidth": 1.5, "domain": false, "grid": false, "minExtent": 40, "maxExtent": 40}},
"detail": {"field": "b", "type": "nominal"}
}
},
{
"data": {"values": [{"k0": 0, "k1": 13.94, "e": 0}]},
"mark": {"type": "rule", "color": "#4fb2ea", "strokeWidth": 1.5},
"encoding": {
"x": {"field": "k0", "type": "quantitative", "axis": {"orient": "top", "title": null, "values": [0, 1.465, 2.94, 5.015, 6.32, 7.78, 9.25, 11.33, 12.63, 13.94], "labels": false, "tickSize": -10, "tickColor": "black", "tickWidth": 1.5, "domain": false, "grid": false, "minExtent": 0, "maxExtent": 0}},
"x2": {"field": "k1"},
"y": {"field": "e", "type": "quantitative", "axis": {"orient": "right", "title": null, "values": [-5, -4, -3, -2, -1, 0, 1, 2], "labels": false, "tickSize": -10, "tickColor": "black", "tickWidth": 1.5, "domain": false, "grid": false, "minExtent": 0, "maxExtent": 0}}
}
}
],
"resolve": {"axis": {"x": "independent", "y": "independent"}}
}
